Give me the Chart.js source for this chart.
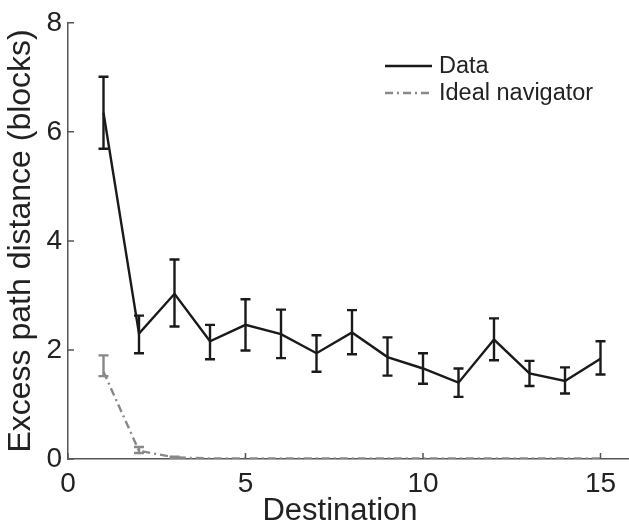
<!DOCTYPE html>
<html>
<head>
<meta charset="utf-8">
<script src="https://cdn.jsdelivr.net/npm/chart.js@4"></script>
<style>
  html, body { margin: 0; padding: 0; background: #fff; overflow: hidden; }
  #wrap { width: 636px; height: 525px; }
</style>
</head>
<body>
<div id="wrap"><canvas id="chart"></canvas></div>
<script>
// destinations 1..15
const destinations = [1, 2, 3, 4, 5, 6, 7, 8, 9, 10, 11, 12, 13, 14, 15];

// observed excess path distance (blocks) with error bar ends
const dataMean = [6.35, 2.30, 3.03, 2.16, 2.46, 2.29, 1.94, 2.32, 1.87, 1.66, 1.40, 2.19, 1.57, 1.43, 1.84];
const dataHigh = [7.01, 2.63, 3.66, 2.46, 2.93, 2.74, 2.27, 2.73, 2.23, 1.94, 1.66, 2.58, 1.80, 1.68, 2.16];
const dataLow  = [5.69, 1.94, 2.43, 1.83, 1.99, 1.85, 1.60, 1.92, 1.53, 1.38, 1.14, 1.81, 1.34, 1.20, 1.55];

// ideal navigator
const idealMean = [1.60, 0.15, 0.03, 0.01, 0.01, 0.01, 0.01, 0.01, 0.01, 0.01, 0.01, 0.01, 0.01, 0.01, 0.01];
const idealHigh = [1.90, 0.22, 0.04, 0.01, 0.01, 0.01, 0.01, 0.01, 0.01, 0.01, 0.01, 0.01, 0.01, 0.01, 0.01];
const idealLow  = [1.52, 0.11, 0.02, 0.01, 0.01, 0.01, 0.01, 0.01, 0.01, 0.01, 0.01, 0.01, 0.01, 0.01, 0.01];

const xTicks = [0, 5, 10, 15];
const yTicks = [0, 2, 4, 6, 8];
const xTitle = "Destination";

const font = "'Liberation Sans', Arial, Helvetica, sans-serif";
const axisColor = "#555";

// error bars, inward ticks, legend and x title, placed with the chart's scales
const extras = {
  id: "extras",
  afterDatasetsDraw(chart) {
    const { ctx, scales: { x, y } } = chart;
    ctx.save();
    const bars = [
      { low: idealLow, high: idealHigh, color: "#888" },
      { low: dataLow, high: dataHigh, color: "#1a1a1a" }
    ];
    bars.forEach(b => {
      ctx.strokeStyle = b.color;
      ctx.lineWidth = 2.4;
      destinations.forEach((d, i) => {
        const px = x.getPixelForValue(d);
        const top = y.getPixelForValue(b.high[i]);
        const bot = y.getPixelForValue(b.low[i]);
        if (bot - top < 1) return;
        ctx.beginPath();
        ctx.moveTo(px, top); ctx.lineTo(px, bot);
        ctx.moveTo(px - 5, top); ctx.lineTo(px + 5, top);
        ctx.moveTo(px - 5, bot); ctx.lineTo(px + 5, bot);
        ctx.stroke();
      });
    });

    // inward ticks
    ctx.strokeStyle = axisColor;
    ctx.lineWidth = 1.5;
    ctx.beginPath();
    xTicks.forEach(t => {
      const px = x.getPixelForValue(t);
      ctx.moveTo(px, y.bottom); ctx.lineTo(px, y.bottom - 6);
    });
    yTicks.forEach(t => {
      const py = y.getPixelForValue(t);
      ctx.moveTo(x.left, py); ctx.lineTo(x.left + 6, py);
    });
    ctx.stroke();

    // legend
    const ds = chart.data.datasets;
    ctx.font = "23.5px " + font;
    ctx.textBaseline = "middle";
    ds.forEach((s, i) => {
      const ly = 66 + i * 27;
      ctx.strokeStyle = s.borderColor;
      ctx.lineWidth = s.borderWidth;
      ctx.setLineDash(s.borderDash || []);
      ctx.beginPath();
      ctx.moveTo(385, ly); ctx.lineTo(432, ly);
      ctx.stroke();
      ctx.setLineDash([]);
      ctx.fillStyle = "#222";
      ctx.fillText(s.label, 439, ly + 1);
    });

    // x axis title, centred a bit left of the plot middle like the original
    ctx.font = "31px " + font;
    ctx.textAlign = "center";
    ctx.textBaseline = "alphabetic";
    ctx.fillStyle = "#222";
    ctx.fillText(xTitle, 340, 520);
    ctx.restore();
  }
};

new Chart(document.getElementById("chart"), {
  type: "line",
  data: {
    datasets: [
      {
        label: "Data",
        data: destinations.map((d, i) => ({ x: d, y: dataMean[i] })),
        borderColor: "#1a1a1a",
        borderWidth: 2.4,
        pointRadius: 0,
        tension: 0
      },
      {
        label: "Ideal navigator",
        data: destinations.map((d, i) => ({ x: d, y: idealMean[i] })),
        borderColor: "#888",
        borderWidth: 2.4,
        borderDash: [8, 4, 2, 4],
        pointRadius: 0,
        tension: 0
      }
    ]
  },
  options: {
    responsive: true,
    maintainAspectRatio: false,
    animation: false,
    layout: { padding: { top: 22, right: 0, left: 0, bottom: 0 } },
    plugins: { legend: { display: false }, tooltip: { enabled: false } },
    scales: {
      x: {
        type: "linear",
        min: 0,
        max: 16,
        afterBuildTicks: s => { s.ticks = xTicks.map(v => ({ value: v })); },
        afterFit: s => { s.height = 66; },
        grid: { display: false, drawTicks: false },
        border: { display: true, color: axisColor, width: 1.5 },
        ticks: { color: "#222", padding: 8, font: { family: font, size: 28 } },
        title: { display: false }
      },
      y: {
        min: 0,
        max: 8,
        afterBuildTicks: s => { s.ticks = yTicks.map(v => ({ value: v })); },
        afterFit: s => { s.width = 68; },
        grid: { display: false, drawTicks: false },
        border: { display: true, color: axisColor, width: 1.5 },
        ticks: { color: "#222", padding: 6, font: { family: font, size: 28 } },
        title: {
          display: true,
          text: "Excess path distance (blocks)",
          color: "#222",
          padding: { top: 2, bottom: 0 },
          font: { family: font, size: 32 }
        }
      }
    }
  },
  plugins: [extras]
});
</script>
</body>
</html>
